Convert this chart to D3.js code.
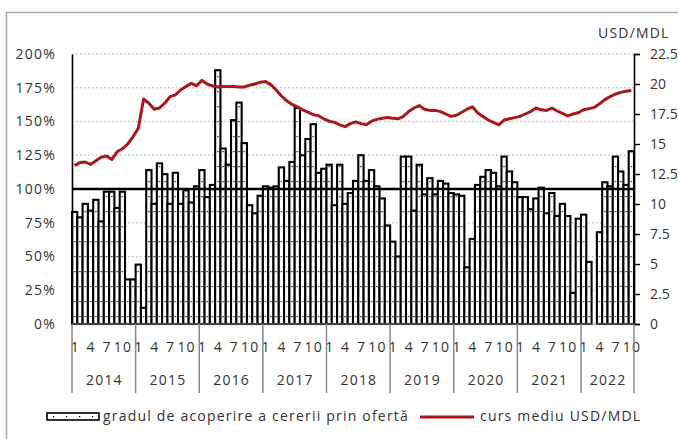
<!DOCTYPE html>
<html>
<head>
<meta charset="utf-8">
<script src="https://cdn.jsdelivr.net/npm/d3@7"></script>
<style>
  body { margin: 0; background: #fff; }
  svg text { font-family: "Open Sans", sans-serif; fill: #333; letter-spacing: 1.2px; }
</style>
</head>
<body>
<svg id="chart"></svg>
<script>
// years on the axis, 2022 only runs to October
const years = [2014, 2015, 2016, 2017, 2018, 2019, 2020, 2021, 2022];
const monthsInYear = [12, 12, 12, 12, 12, 12, 12, 12, 10];
const monthLabels = [1, 4, 7, 10];

// gradul de acoperire a cererii prin ofertă, %
const coverage2014 = [83, 79, 89, 84, 92, 76, 98, 98, 86, 98, 33, 33];
const coverage2015 = [44, 12, 114, 89, 119, 111, 89, 112, 89, 99, 90, 102];
const coverage2016 = [114, 94, 103, 188, 130, 118, 151, 164, 134, 88, 82, 95];
const coverage2017 = [102, 101, 102, 116, 106, 120, 160, 125, 137, 148, 112, 115];
const coverage2018 = [118, 88, 118, 89, 97, 106, 125, 106, 114, 102, 93, 73];
const coverage2019 = [61, 50, 124, 124, 84, 118, 96, 108, 96, 106, 104, 97];
const coverage2020 = [96, 95, 42, 63, 103, 109, 114, 112, 102, 124, 113, 105];
const coverage2021 = [94, 94, 85, 93, 101, 82, 97, 80, 89, 80, 23, 78];
const coverage2022 = [81, 46, null, 68, 105, 102, 124, 113, 103, 128];

// curs mediu USD/MDL
const rate2014 = [13.2, 13.45, 13.5, 13.3, 13.6, 13.9, 14.0, 13.7, 14.35, 14.6, 15.0, 15.6];
const rate2015 = [16.3, 18.75, 18.4, 17.9, 18.0, 18.4, 18.95, 19.1, 19.5, 19.8, 20.05, 19.85];
const rate2016 = [20.3, 20.0, 19.85, 19.75, 19.8, 19.8, 19.8, 19.75, 19.75, 19.9, 20.0, 20.15];
const rate2017 = [20.2, 19.95, 19.5, 19.0, 18.6, 18.3, 18.1, 17.85, 17.65, 17.45, 17.35, 17.1];
const rate2018 = [16.9, 16.8, 16.6, 16.45, 16.7, 16.85, 16.7, 16.6, 16.9, 17.05, 17.15, 17.2];
const rate2019 = [17.15, 17.1, 17.3, 17.7, 18.0, 18.2, 17.9, 17.8, 17.8, 17.7, 17.5, 17.3];
const rate2020 = [17.4, 17.65, 17.9, 18.1, 17.6, 17.3, 17.0, 16.8, 16.6, 17.0, 17.1, 17.2];
const rate2021 = [17.3, 17.5, 17.7, 18.0, 17.85, 17.8, 18.0, 17.75, 17.55, 17.35, 17.5, 17.6];
const rate2022 = [17.85, 17.95, 18.05, 18.35, 18.7, 18.95, 19.15, 19.3, 19.4, 19.45];

const leftTicks = [0, 25, 50, 75, 100, 125, 150, 175, 200];
const rightTicks = [0, 2.5, 5, 7.5, 10, 12.5, 15, 17.5, 20, 22.5];

const coverage = [].concat(coverage2014, coverage2015, coverage2016, coverage2017,
  coverage2018, coverage2019, coverage2020, coverage2021, coverage2022);
const rate = [].concat(rate2014, rate2015, rate2016, rate2017,
  rate2018, rate2019, rate2020, rate2021, rate2022);

// one entry per month
const months = [];
years.forEach((y, i) => {
  for (let m = 1; m <= monthsInYear[i]; m++) months.push({ year: y, month: m });
});
months.forEach((d, i) => { d.cov = coverage[i]; d.rate = rate[i]; d.i = i; });

const width = 678, height = 439;
const plotLeft = 72, plotRight = 634, plotTop = 54, plotBottom = 324;

const svg = d3.select("#chart").attr("width", width).attr("height", height);

// outer frame
svg.append("rect")
  .attr("x", 6.5).attr("y", 12.5).attr("width", 690).attr("height", 450)
  .attr("fill", "none").attr("stroke", "#aaa").attr("stroke-width", 1.5);

const x = d3.scaleBand().domain(d3.range(months.length)).range([plotLeft, plotRight]).padding(0);
const yL = d3.scaleLinear().domain([0, 200]).range([plotBottom, plotTop]);
const yR = d3.scaleLinear().domain([0, 22.5]).range([plotBottom, plotTop]);
const step = x.step();

// dotted fill for the bars
const defs = svg.append("defs");
const pat = defs.append("pattern").attr("id", "dots")
  .attr("patternUnits", "userSpaceOnUse")
  .attr("x", plotLeft).attr("y", plotBottom)
  .attr("width", step).attr("height", 15);
pat.append("rect").attr("width", step).attr("height", 15).attr("fill", "#fff");
pat.append("rect").attr("x", step / 2 - 0.6).attr("y", 7).attr("width", 1.2).attr("height", 1.2).attr("fill", "#000");

const patL = defs.append("pattern").attr("id", "dotsLegend")
  .attr("patternUnits", "userSpaceOnUse")
  .attr("x", 47).attr("y", 413)
  .attr("width", 13).attr("height", 8);
patL.append("rect").attr("width", 13).attr("height", 8).attr("fill", "#fff");
patL.append("rect").attr("x", 6).attr("y", 3).attr("width", 1.2).attr("height", 1.2).attr("fill", "#000");

// grid lines
svg.append("g")
  .selectAll("line")
  .data(leftTicks.filter(d => d !== 0 && d !== 100))
  .join("line")
  .attr("x1", plotLeft).attr("x2", plotRight)
  .attr("y1", d => yL(d)).attr("y2", d => yL(d))
  .attr("stroke", "#c4c4c4").attr("stroke-width", 1.3)
  .attr("stroke-dasharray", "1.5,2.5");

// bars
svg.append("g")
  .selectAll("rect")
  .data(months.filter(d => d.cov != null))
  .join("rect")
  .attr("x", d => x(d.i))
  .attr("y", d => yL(d.cov))
  .attr("width", step)
  .attr("height", d => yL(0) - yL(d.cov))
  .attr("fill", "url(#dots)")
  .attr("stroke", "#000")
  .attr("stroke-width", 2.1);

// 100% line
svg.append("line")
  .attr("x1", plotLeft).attr("x2", plotRight)
  .attr("y1", yL(100)).attr("y2", yL(100))
  .attr("stroke", "#000").attr("stroke-width", 2.6);

// exchange rate
const line = d3.line()
  .x(d => x(d.i) + step / 2)
  .y(d => yR(d.rate))
  .curve(d3.curveLinear);

svg.append("path")
  .datum(months)
  .attr("d", line)
  .attr("fill", "none")
  .attr("stroke", "#a8191e")
  .attr("stroke-width", 3)
  .attr("stroke-linejoin", "round");

// left axis
const axL = svg.append("g")
  .attr("transform", `translate(${plotLeft},0)`)
  .call(d3.axisLeft(yL).tickValues(leftTicks).tickSize(0).tickPadding(16).tickFormat(d => d + "%"));
axL.select(".domain").attr("stroke", "#000").attr("stroke-width", 1.6);
axL.selectAll("text").attr("font-size", 14).attr("fill", "#333")
  .style("font-family", "'Open Sans', sans-serif");

// right axis
const axR = svg.append("g")
  .attr("transform", `translate(${plotRight},0)`)
  .call(d3.axisRight(yR).tickValues(rightTicks).tickSize(6).tickPadding(10).tickFormat(d => String(d)));
axR.select(".domain").attr("stroke", "#000").attr("stroke-width", 1.6);
axR.selectAll(".tick line").attr("stroke", "#000").attr("stroke-width", 1.4);
axR.selectAll("text").attr("font-size", 14).attr("fill", "#333")
  .style("font-family", "'Open Sans', sans-serif")
  .style("letter-spacing", "0px");

svg.append("text")
  .attr("x", 598).attr("y", 38)
  .attr("font-size", 14)
  .text("USD/MDL");

// x axis: month labels, years, separators
svg.append("line")
  .attr("x1", plotLeft).attr("x2", plotRight)
  .attr("y1", plotBottom).attr("y2", plotBottom)
  .attr("stroke", "#888").attr("stroke-width", 1);

svg.append("g")
  .selectAll("text")
  .data(months.filter(d => monthLabels.includes(d.month)))
  .join("text")
  .attr("x", d => x(d.i) + step / 2 + 0.6)
  .attr("y", 352)
  .attr("text-anchor", "middle")
  .attr("font-size", 14)
  .text(d => d.month);

const yearSpans = [];
let acc = 0;
years.forEach((y, i) => { yearSpans.push({ year: y, start: acc, end: acc + monthsInYear[i] }); acc += monthsInYear[i]; });

svg.append("g")
  .selectAll("line")
  .data(yearSpans.map(d => d.start).concat([acc]))
  .join("line")
  .attr("x1", d => d < months.length ? x(d) : plotRight)
  .attr("x2", d => d < months.length ? x(d) : plotRight)
  .attr("y1", plotBottom).attr("y2", 393)
  .attr("stroke", "#8a8a8a").attr("stroke-width", 1.5);

svg.append("g")
  .selectAll("text")
  .data(yearSpans)
  .join("text")
  .attr("x", d => (x(d.start) + (d.end < months.length ? x(d.end) : plotRight)) / 2 + 0.6)
  .attr("y", 385)
  .attr("text-anchor", "middle")
  .attr("font-size", 14)
  .text(d => d.year);

// legend
svg.append("rect")
  .attr("x", 47).attr("y", 413).attr("width", 52).attr("height", 7)
  .attr("fill", "url(#dotsLegend)").attr("stroke", "#000").attr("stroke-width", 1.6);
svg.append("text").attr("x", 103).attr("y", 421).attr("font-size", 14)
  .text("gradul de acoperire a cererii prin ofertă");
svg.append("line")
  .attr("x1", 420).attr("x2", 474).attr("y1", 417).attr("y2", 417)
  .attr("stroke", "#a8191e").attr("stroke-width", 3.2);
svg.append("text").attr("x", 480).attr("y", 421).attr("font-size", 14)
  .text("curs mediu USD/MDL");
</script>
</body>
</html>
